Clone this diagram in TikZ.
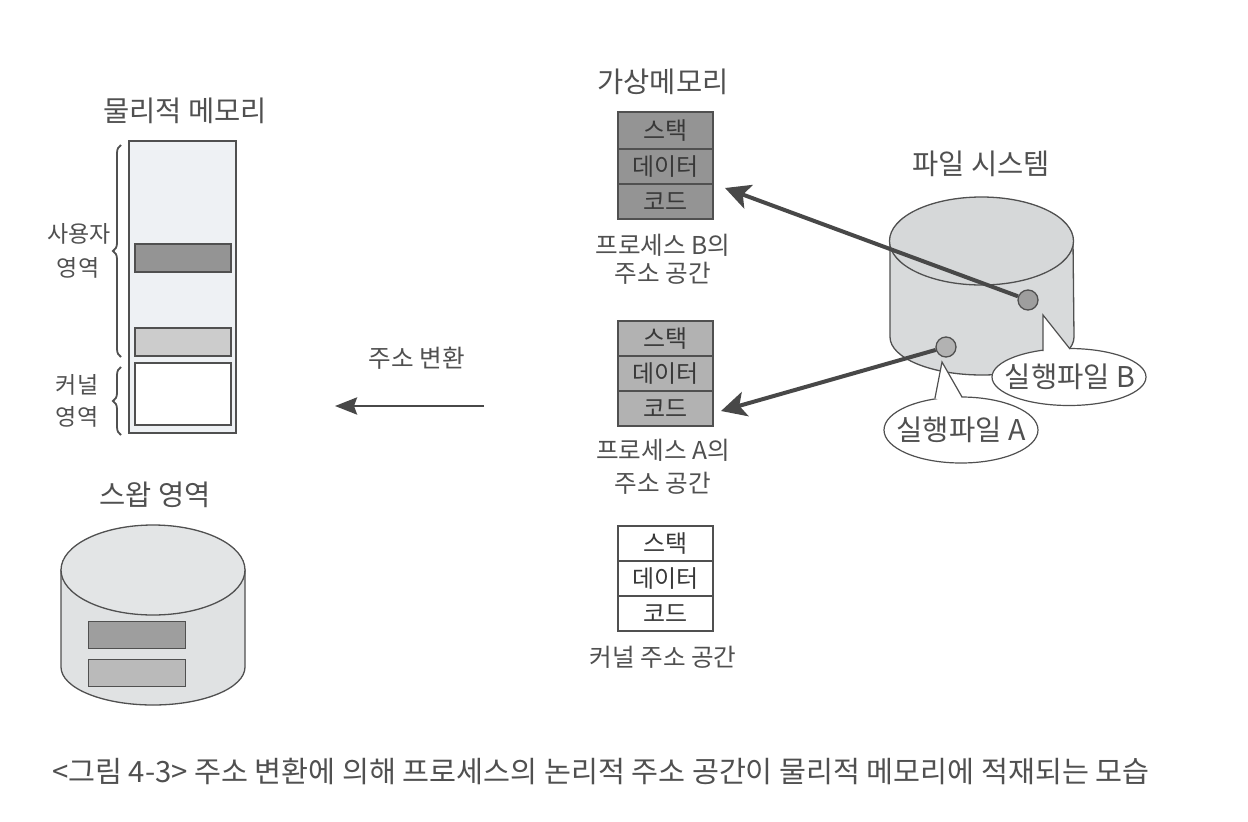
\documentclass[tikz,border=0pt]{standalone}
\usepackage{fontspec}
\setmainfont{Noto Sans CJK KR}
\usetikzlibrary{arrows.meta,decorations.pathreplacing,shapes.geometric}
\definecolor{ink}{HTML}{505050}
\definecolor{inkd}{HTML}{383838}
\definecolor{linec}{HTML}{505050}
\definecolor{arrowc}{HTML}{484848}
\definecolor{physfill}{HTML}{EEF1F4}
\definecolor{swapside}{HTML}{E0E2E3}
\definecolor{swaptop}{HTML}{E3E5E6}
\definecolor{fsside}{HTML}{D8DADB}
\definecolor{fstop}{HTML}{D6D8D9}
\newcommand{\fs}[1]{\fontsize{#1}{#1}\selectfont}
\tikzset{
  every node/.style={text=ink},
  lab/.style={inner sep=0pt,font=\fs{28.5}},
  small/.style={inner sep=0pt,font=\fs{24.6}},
  side/.style={inner sep=0pt,font=\fs{23}},
  bubtext/.style={inner sep=0pt,font=\fs{28.6}},
  cell/.style={draw=linec,line width=1.4pt,minimum width=95pt,minimum height=35pt,inner sep=0pt,font=\fs{24},text=inkd},
  cellB/.style={cell,fill=black!42},
  cellA/.style={cell,fill=black!30},
  cellK/.style={cell,fill=white},
  mem/.style={draw=linec,line width=1.4pt,minimum width=96pt,inner sep=0pt},
  cyl/.style={draw=linec,line width=1.3pt},
  dot/.style={circle,draw=linec,line width=1.3pt,minimum size=20pt,inner sep=0pt},
  bub/.style={ellipse,draw=linec,fill=white,line width=1.2pt,inner sep=0pt},
  bigarrow/.style={draw=arrowc,line width=4pt,-{Stealth[length=25pt,width=25pt,inset=6pt]}},
  thinarrow/.style={draw=arrowc,line width=2.8pt,-{Stealth[length=22pt,width=17pt,inset=3pt]}},
  bracec/.style={draw=linec,line width=1.8pt,decorate,decoration={brace,amplitude=8pt,aspect=0.5}},
}
\begin{document}
\begin{tikzpicture}[x=1pt,y=-1pt]
\useasboundingbox (0,0) rectangle (1248,822);
\fill[white] (0,0) rectangle (1248,822);

% Physical memory
\node[lab] (physT) at (185,111) {물리적 메모리};
\node[draw=linec,line width=1.4pt,fill=physfill,minimum width=107pt,minimum height=292pt,inner sep=0pt] (phys) at (182.5,287) {};
\node[mem,fill=black!42,minimum height=28pt] (physB) at (183,258) {};
\node[mem,fill=black!20,minimum height=28pt] (physA) at (183,342) {};
\node[mem,fill=white,minimum height=62pt] (physK) at (183,394) {};
\draw[bracec] (121,357) -- (121,145);
\draw[bracec] (121,435) -- (121,367);
\node[side] (userA) at (79,234) {사용자};
\node[side] (userB) at (78,268) {영역};
\node[side] (kernA) at (77,385) {커널};
\node[side] (kernB) at (77,417) {영역};

% Swap
\node[lab] (swapT) at (155,495) {스왑 영역};
\path[cyl,fill=swapside] (61,570) -- (61,667) arc[x radius=92,y radius=38,start angle=180,end angle=0] -- (245,570) -- cycle;
\draw[cyl,fill=swaptop] (153,570) ellipse[x radius=92,y radius=45];
\node[draw=linec,line width=1.3pt,fill=black!38,minimum width=97pt,minimum height=27pt,inner sep=0pt] (swapB) at (137,635) {};
\node[draw=linec,line width=1.3pt,fill=black!27,minimum width=97pt,minimum height=27pt,inner sep=0pt] (swapA) at (137,673) {};

% Virtual memory
\node[lab] (virtT) at (663,82) {가상메모리};
\node[cellB,minimum height=37pt] (bS) at (665.5,130.5) {스택};
\node[cellB] (bD) at (665.5,166.5) {데이터};
\node[cellB] (bC) at (665.5,201.5) {코드};
\node[small] (bL1) at (663,245) {프로세스 B의};
\node[small] (bL2) at (663,273) {주소 공간};

\node[cellA] (aS) at (665.5,338.5) {스택};
\node[cellA] (aD) at (665.5,373.5) {데이터};
\node[cellA] (aC) at (665.5,408.5) {코드};
\node[small] (aL1) at (663,450) {프로세스 A의};
\node[small] (aL2) at (663,483) {주소 공간};

\node[cellK] (kS) at (665.5,543.5) {스택};
\node[cellK] (kD) at (665.5,578.5) {데이터};
\node[cellK] (kC) at (665.5,613.5) {코드};
\node[small] (kL) at (663,657) {커널 주소 공간};

% Address translation
\node[small] (trans) at (417,358) {주소 변환};
\coordinate (transS) at (484,406);
\coordinate (transE) at (335,406);
\draw[thinarrow] (transS) -- (transE);

% File system
\node[lab] (fsT) at (981,164) {파일 시스템};
\path[cyl,fill=fsside] (890,241) -- (890,337) arc[x radius=92,y radius=38,start angle=180,end angle=0] -- (1073,241) -- cycle;
\draw[cyl,fill=fstop] (981.5,241) ellipse[x radius=92,y radius=44];
\node[dot,fill=black!38] (fileB) at (1028,300) {};
\node[dot,fill=black!30] (fileA) at (946,347) {};
\coordinate (tipB) at (725,188);
\coordinate (tipA) at (721,411);
\draw[bigarrow] (fileB) -- (tipB);
\draw[bigarrow] (fileA) -- (tipA);

% Callouts
\node[bub,minimum width=154pt,minimum height=57pt] (callB) at (1069,377) {};
\coordinate (cbT) at (1043,315);
\coordinate (cb1) at (1043,351);
\coordinate (cb2) at (1070,349);
\fill[white] (cbT) -- (cb1) -- (1060,358) -- (cb2) -- cycle;
\draw[draw=linec,line width=1.2pt] (cb1) -- (cbT) -- (cb2);
\node[bubtext] (callBt) at (1070,377) {실행파일 B};

\node[bub,minimum width=154pt,minimum height=66pt] (callA) at (961,430) {};
\coordinate (caT) at (942,362);
\coordinate (ca1) at (935,398);
\coordinate (ca2) at (962,397);
\fill[white] (caT) -- (ca1) -- (950,406) -- (ca2) -- cycle;
\draw[draw=linec,line width=1.2pt] (ca1) -- (caT) -- (ca2);
\node[bubtext] (callAt) at (961,430) {실행파일 A};

% Caption
\node[inner sep=0pt,font=\fs{29.3},anchor=west] (cap) at (52,771) {<그림 4-3> 주소 변환에 의해 프로세스의 논리적 주소 공간이 물리적 메모리에 적재되는 모습};
\end{tikzpicture}
\end{document}
